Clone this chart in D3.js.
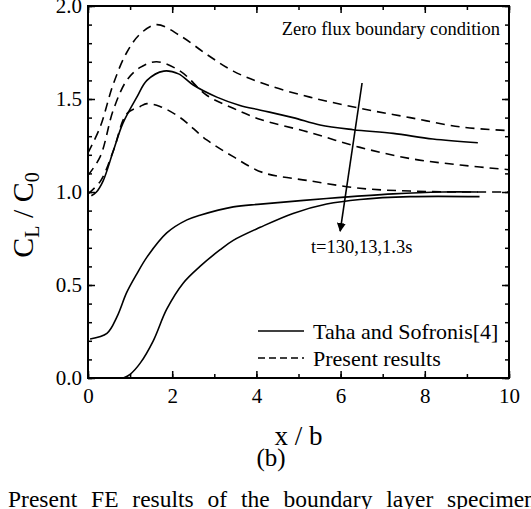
<!DOCTYPE html>
<html><head><meta charset="utf-8">
<script src="https://cdn.jsdelivr.net/npm/d3@7"></script>
<style>
html,body{margin:0;padding:0;background:#fff;overflow:hidden;}
svg{display:block;}
svg text{font-family:"Liberation Serif","Times New Roman",serif !important;fill:#000;}
</style></head>
<body>
<svg id="c" width="531" height="509"></svg>
<script>
// ---- data ----
const xTicks = [0, 2, 4, 6, 8, 10];
const yTicks = [0.0, 0.5, 1.0, 1.5, 2.0];

// Present results (dashed), t = 130, 13, 1.3 s
const dash130X = [0, 0.29, 0.6, 0.92, 1.24, 1.63, 2.19, 2.82, 3.45, 4.2, 5.27, 6.46, 7.65, 8.84, 10];
const dash130Y = [1.21, 1.35, 1.58, 1.75, 1.85, 1.90, 1.84, 1.74, 1.65, 1.58, 1.51, 1.45, 1.40, 1.35, 1.33];
const dash13X = [0, 0.29, 0.6, 0.92, 1.24, 1.63, 2.19, 2.82, 3.45, 4.1, 5.27, 6.46, 7.65, 8.84, 10];
const dash13Y = [1.09, 1.19, 1.44, 1.60, 1.67, 1.70, 1.65, 1.52, 1.45, 1.39, 1.32, 1.24, 1.18, 1.145, 1.12];
const dash1_3X = [0, 0.3, 0.6, 0.92, 1.24, 1.4, 1.71, 2.19, 2.82, 3.45, 4.15, 5.27, 6.46, 7.65, 8.84, 10];
const dash1_3Y = [0.99, 1.06, 1.22, 1.42, 1.46, 1.475, 1.46, 1.40, 1.28, 1.19, 1.105, 1.06, 1.02, 1.005, 1.0, 1.0];

// Taha and Sofronis [4] (solid)
const taha130X = [0.08, 0.2, 0.36, 0.6, 0.83, 1.16, 1.4, 1.8, 2.15, 2.5, 3.06, 3.61, 4.1, 4.87, 5.51, 6.3, 7.25, 8.19, 9.26];
const taha130Y = [0.98, 1.0, 1.06, 1.22, 1.37, 1.51, 1.60, 1.65, 1.635, 1.575, 1.51, 1.465, 1.44, 1.40, 1.36, 1.335, 1.315, 1.285, 1.265];
const taha13X = [0.05, 0.45, 0.69, 0.92, 1.16, 1.4, 1.87, 2.35, 2.66, 3.45, 4.1, 5.67, 7.25, 8.43, 9.26];
const taha13Y = [0.21, 0.24, 0.33, 0.46, 0.56, 0.65, 0.78, 0.85, 0.875, 0.92, 0.935, 0.965, 0.99, 1.0, 1.0];
const taha1_3X = [0.84, 1.0, 1.24, 1.55, 1.87, 2.26, 2.66, 3.14, 3.45, 4.09, 4.87, 5.67, 6.46, 7.65, 9.3];
const taha1_3Y = [0, 0.02, 0.08, 0.20, 0.37, 0.51, 0.60, 0.69, 0.74, 0.81, 0.885, 0.935, 0.96, 0.975, 0.975];

const arrowFrom = [6.51, 1.586];
const arrowTo = [5.99, 0.79];
const legendLabels = ["Taha and Sofronis[4]", "Present results"];

// ---- layout ----
const W = 531, H = 509;
const m = {left: 88, right: 22, top: 6, bottom: 131};
const pw = W - m.left - m.right, ph = H - m.top - m.bottom;
const svg = d3.select("#c");
const x = d3.scaleLinear().domain([0, 10]).range([m.left, m.left + pw]);
const y = d3.scaleLinear().domain([0, 2]).range([m.top + ph, m.top]);

const zip = (xs, ys) => xs.map((v, i) => [v, ys[i]]);
const line = d3.line().x(d => x(d[0])).y(d => y(d[1])).curve(d3.curveCatmullRom.alpha(0.5));

const g = svg.append("g");
const dashed = [[dash130X, dash130Y], [dash13X, dash13Y], [dash1_3X, dash1_3Y]];
const solid = [[taha130X, taha130Y], [taha13X, taha13Y], [taha1_3X, taha1_3Y]];
dashed.forEach(s => g.append("path").attr("d", line(zip(s[0], s[1])))
  .attr("fill", "none").attr("stroke", "#000").attr("stroke-width", 1.6).attr("stroke-dasharray", "9,6"));
solid.forEach(s => g.append("path").attr("d", line(zip(s[0], s[1])))
  .attr("fill", "none").attr("stroke", "#000").attr("stroke-width", 1.6));

// axes
const minorX = d3.range(0, 10.01, 1);
const minorY = d3.range(0, 2.001, 0.1);
function axisGen(axisFn, scale, ticks, size, fmt) {
  return axisFn(scale).tickValues(ticks).tickSizeInner(size).tickSizeOuter(0).tickFormat(fmt);
}
const fmtY = d3.format(".1f");
const bx = svg.append("g").attr("transform", `translate(0,${m.top + ph})`);
bx.call(axisGen(d3.axisBottom, x, minorX, -4, ""));
const bxM = svg.append("g").attr("transform", `translate(0,${m.top + ph})`);
bxM.call(axisGen(d3.axisBottom, x, xTicks, -7, d3.format("d")));
bxM.selectAll("text").attr("y", 10).attr("dy", "0.71em");
svg.append("g").attr("transform", `translate(0,${m.top})`).call(axisGen(d3.axisTop, x, minorX, -4, ""));
svg.append("g").attr("transform", `translate(0,${m.top})`).call(axisGen(d3.axisTop, x, xTicks, -7, ""));
svg.append("g").attr("transform", `translate(${m.left},0)`).call(axisGen(d3.axisLeft, y, minorY, -4, ""));
const lyM = svg.append("g").attr("transform", `translate(${m.left},0)`);
lyM.call(axisGen(d3.axisLeft, y, yTicks, -7, fmtY));
lyM.selectAll("text").attr("x", -6);
svg.append("g").attr("transform", `translate(${m.left + pw},0)`).call(axisGen(d3.axisRight, y, minorY, -4, ""));
svg.append("g").attr("transform", `translate(${m.left + pw},0)`).call(axisGen(d3.axisRight, y, yTicks, -7, ""));

svg.selectAll(".domain").remove();
svg.selectAll(".tick line").attr("stroke", "#000").attr("stroke-width", 1.5);
svg.selectAll(".tick text").attr("font-size", 21).attr("fill", "#000");
svg.append("rect").attr("x", m.left).attr("y", m.top).attr("width", pw).attr("height", ph)
  .attr("fill", "none").attr("stroke", "#000").attr("stroke-width", 2);

// arrow
svg.append("defs").append("marker").attr("id", "ah").attr("viewBox", "0 0 10 10")
  .attr("refX", 9).attr("refY", 5).attr("markerWidth", 9).attr("markerHeight", 9)
  .attr("markerUnits", "userSpaceOnUse").attr("orient", "auto")
  .append("path").attr("d", "M0,0 L10,5 L0,10 z").attr("fill", "#000");
svg.append("line").attr("x1", x(arrowFrom[0])).attr("y1", y(arrowFrom[1]))
  .attr("x2", x(arrowTo[0])).attr("y2", y(arrowTo[1]))
  .attr("stroke", "#000").attr("stroke-width", 1.6).attr("marker-end", "url(#ah)");

// annotations
svg.append("text").attr("x", 500).attr("y", 35).attr("text-anchor", "end")
  .attr("font-size", 18.5).text("Zero flux boundary condition");
svg.append("text").attr("x", x(6.5)).attr("y", 253).attr("text-anchor", "middle")
  .attr("font-size", 18.5).text("t=130,13,1.3s");

// legend
const leg = svg.append("g");
legendLabels.forEach((lab, i) => {
  const ly = 331 + i * 27;
  leg.append("line").attr("x1", 258).attr("x2", 304).attr("y1", ly).attr("y2", ly)
    .attr("stroke", "#000").attr("stroke-width", 1.6).attr("stroke-dasharray", i ? "7,4" : null);
  leg.append("text").attr("x", 313).attr("y", ly + 8).attr("font-size", 22).text(lab);
});

// axis titles
svg.append("text").attr("x", x(5)).attr("y", 445).attr("text-anchor", "middle")
  .attr("font-size", 27).text("x / b");
const yl = svg.append("text").attr("transform", "translate(33,215) rotate(-90)")
  .attr("text-anchor", "middle").attr("font-size", 30);
yl.append("tspan").text("C");
yl.append("tspan").attr("font-size", 20).attr("dy", 6).text("L");
yl.append("tspan").attr("dy", -6).text(" / C");
yl.append("tspan").attr("font-size", 20).attr("dy", 6).text("0");

svg.append("text").attr("x", 271).attr("y", 466).attr("text-anchor", "middle")
  .attr("font-size", 25).text("(b)");
svg.append("text").attr("x", 8).attr("y", 507).attr("font-size", 23.5).attr("word-spacing", 8)
  .text("Present FE results of the boundary layer specimen");
</script>
</body></html>
